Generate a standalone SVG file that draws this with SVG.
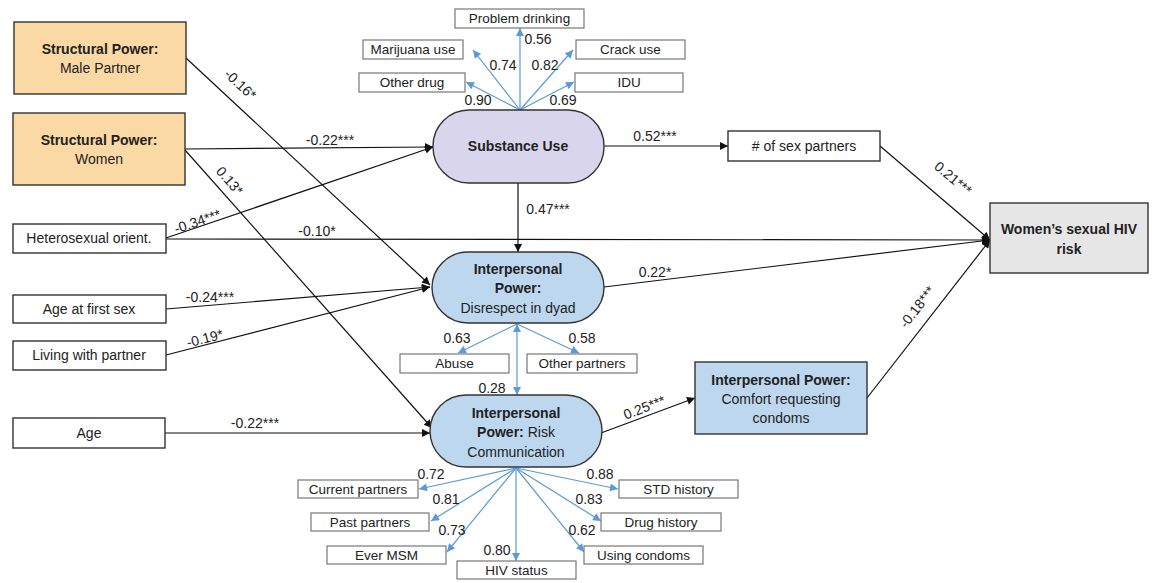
<svg xmlns="http://www.w3.org/2000/svg" width="1160" height="583" viewBox="0 0 1160 583">
<defs>
<marker id="ah" viewBox="0 0 10 10" refX="10" refY="5" markerWidth="10" markerHeight="8" markerUnits="userSpaceOnUse" orient="auto"><path d="M0,0 L10,5 L0,10 z" fill="#111"/></marker>
<marker id="bh" viewBox="0 0 10 10" refX="10" refY="5" markerWidth="9" markerHeight="8" markerUnits="userSpaceOnUse" orient="auto"><path d="M0,0 L10,5 L0,10 z" fill="#5b9bd5"/></marker>
<marker id="bs" viewBox="0 0 10 10" refX="0" refY="5" markerWidth="9" markerHeight="8" markerUnits="userSpaceOnUse" orient="auto"><path d="M10,0 L0,5 L10,10 z" fill="#5b9bd5"/></marker>
</defs>
<style>
text{font-family:"Liberation Sans",Arial,sans-serif;fill:#222;}
.t{font-size:14px;text-anchor:middle;}
.b{font-weight:bold;}
.s{font-size:13.5px;text-anchor:middle;}
.lab{font-size:14px;text-anchor:middle;}
.main{stroke:#333;stroke-width:1.4;}
.ind{fill:#fff;stroke:#777;stroke-width:1.2;}
.c{stroke:#111;stroke-width:1.2;fill:none;marker-end:url(#ah);}
.bl{stroke:#5b9bd5;stroke-width:1.2;fill:none;marker-end:url(#bh);}
</style>
<rect width="1160" height="583" fill="#fff"/>

<g id="connectors">
<line class="c" x1="186" y1="58" x2="430" y2="285"/>
<line class="c" x1="185" y1="149" x2="433" y2="147"/>
<line class="c" x1="185" y1="150" x2="432" y2="428"/>
<line class="c" x1="166" y1="238" x2="433" y2="147"/>
<line class="c" x1="166" y1="239" x2="990" y2="240"/>
<line class="c" x1="166" y1="309" x2="430" y2="287"/>
<line class="c" x1="166" y1="355" x2="430" y2="287"/>
<line class="c" x1="165" y1="433" x2="430" y2="433"/>
<line class="c" x1="518" y1="183" x2="518" y2="252"/>
<line class="c" x1="604" y1="146" x2="728" y2="146"/>
<line class="c" x1="880" y1="146" x2="990" y2="240"/>
<line class="c" x1="604" y1="287" x2="990" y2="240"/>
<line class="c" x1="867" y1="398" x2="990" y2="240"/>
<line class="c" x1="601" y1="433" x2="695" y2="398"/>
<line class="bl" x1="520" y1="110" x2="520" y2="28"/>
<line class="bl" x1="520" y1="110" x2="473" y2="50"/>
<line class="bl" x1="520" y1="110" x2="573" y2="50"/>
<line class="bl" x1="520" y1="110" x2="466" y2="82"/>
<line class="bl" x1="520" y1="110" x2="574" y2="82"/>
<line class="bl" x1="517" y1="324" x2="458" y2="353"/>
<line class="bl" x1="517" y1="324" x2="579" y2="353"/>
<line class="bl" x1="517" y1="324" x2="517" y2="395" marker-start="url(#bs)"/>
<line class="bl" x1="516" y1="468" x2="419" y2="489"/>
<line class="bl" x1="516" y1="468" x2="431" y2="521"/>
<line class="bl" x1="516" y1="468" x2="447" y2="552"/>
<line class="bl" x1="516" y1="468" x2="516" y2="561"/>
<line class="bl" x1="516" y1="468" x2="618" y2="489"/>
<line class="bl" x1="516" y1="468" x2="601" y2="521"/>
<line class="bl" x1="516" y1="468" x2="584" y2="552"/>
</g>

<g id="labels">
<text class="lab" transform="translate(237,88) rotate(43)">-0.16*</text>
<text class="lab" x="330" y="145">-0.22***</text>
<text class="lab" transform="translate(226,184) rotate(49)">0.13*</text>
<text class="lab" transform="translate(199,226) rotate(-19)">-0.34***</text>
<text class="lab" x="317" y="236">-0.10*</text>
<text class="lab" x="210" y="302">-0.24***</text>
<text class="lab" transform="translate(206,343) rotate(-14)">-0.19*</text>
<text class="lab" x="255" y="428">-0.22***</text>
<text class="lab" x="548" y="214">0.47***</text>
<text class="lab" x="655" y="141">0.52***</text>
<text class="lab" transform="translate(950,182) rotate(40)">0.21***</text>
<text class="lab" x="655" y="277">0.22*</text>
<text class="lab" transform="translate(921,310) rotate(-52)">-0.18***</text>
<text class="lab" transform="translate(646,412) rotate(-21)">0.25***</text>
<text class="lab" x="538" y="44">0.56</text>
<text class="lab" x="503" y="70">0.74</text>
<text class="lab" x="545" y="70">0.82</text>
<text class="lab" x="478" y="105">0.90</text>
<text class="lab" x="563" y="105">0.69</text>
<text class="lab" x="457" y="343">0.63</text>
<text class="lab" x="582" y="343">0.58</text>
<text class="lab" x="492" y="393">0.28</text>
<text class="lab" x="431" y="479">0.72</text>
<text class="lab" x="446" y="504">0.81</text>
<text class="lab" x="452" y="535">0.73</text>
<text class="lab" x="497" y="555">0.80</text>
<text class="lab" x="600" y="479">0.88</text>
<text class="lab" x="589" y="504">0.83</text>
<text class="lab" x="582" y="535">0.62</text>
</g>

<g id="male-partner">
<rect class="main" x="14" y="22" width="172" height="72" fill="#fbd9a5"/>
<text class="t b" x="100" y="54">Structural Power:</text>
<text class="t" x="100" y="73">Male Partner</text>
</g>
<g id="women">
<rect class="main" x="13" y="113" width="172" height="72" fill="#fbd9a5"/>
<text class="t b" x="99" y="145">Structural Power:</text>
<text class="t" x="99" y="164">Women</text>
</g>
<g id="hetero">
<rect class="main" x="13" y="224" width="153" height="29" fill="#fff"/>
<text class="t" x="89" y="243">Heterosexual orient.</text>
</g>
<g id="age-first-sex">
<rect class="main" x="13" y="295" width="153" height="28" fill="#fff"/>
<text class="t" x="89" y="314">Age at first sex</text>
</g>
<g id="living">
<rect class="main" x="13" y="341" width="153" height="29" fill="#fff"/>
<text class="t" x="89" y="360">Living with partner</text>
</g>
<g id="age">
<rect class="main" x="13" y="418" width="152" height="30" fill="#fff"/>
<text class="t" x="89" y="438">Age</text>
</g>

<g id="substance-use">
<rect class="main" x="433" y="110" width="171" height="73" rx="36" fill="#d9d5ec"/>
<text class="t b" x="518" y="151">Substance Use</text>
</g>
<g id="disrespect">
<rect class="main" x="432" y="252" width="172" height="71" rx="36" fill="#bdd7ee"/>
<text class="t b" x="518" y="274">Interpersonal</text>
<text class="t b" x="518" y="293">Power:</text>
<text class="t" x="518" y="313">Disrespect in dyad</text>
</g>
<g id="risk-communication">
<rect class="main" x="430" y="395" width="172" height="72" rx="36" fill="#bdd7ee"/>
<text class="t b" x="516" y="418">Interpersonal</text>
<text class="t" x="516" y="437"><tspan font-weight="bold">Power:</tspan>  Risk</text>
<text class="t" x="516" y="457">Communication</text>
</g>
<g id="sex-partners">
<rect class="main" x="728" y="131" width="152" height="30" fill="#fff"/>
<text class="t" x="804" y="151"># of sex partners</text>
</g>
<g id="hiv-risk">
<rect class="main" x="990" y="203" width="158" height="70" fill="#e6e6e6"/>
<text class="t b" x="1069" y="234">Women’s sexual HIV</text>
<text class="t b" x="1069" y="254">risk</text>
</g>
<g id="comfort">
<rect class="main" x="695" y="362" width="172" height="72" fill="#bdd7ee"/>
<text class="t b" x="781" y="385">Interpersonal Power:</text>
<text class="t" x="781" y="404">Comfort requesting</text>
<text class="t" x="781" y="423">condoms</text>
</g>

<g id="ind-problem-drinking"><rect class="ind" x="455" y="9" width="129" height="19"/><text class="s" x="519.5" y="23">Problem drinking</text></g>
<g id="ind-marijuana"><rect class="ind" x="363" y="40" width="100" height="19"/><text class="s" x="413" y="54">Marijuana use</text></g>
<g id="ind-crack"><rect class="ind" x="576" y="40" width="109" height="19"/><text class="s" x="630.5" y="54">Crack use</text></g>
<g id="ind-other-drug"><rect class="ind" x="359" y="73" width="106" height="19"/><text class="s" x="412" y="87">Other drug</text></g>
<g id="ind-idu"><rect class="ind" x="575" y="73" width="108" height="19"/><text class="s" x="629" y="87">IDU</text></g>
<g id="ind-abuse"><rect class="ind" x="400" y="354" width="109" height="19"/><text class="s" x="454.5" y="368">Abuse</text></g>
<g id="ind-other-partners"><rect class="ind" x="527" y="354" width="110" height="19"/><text class="s" x="582" y="368">Other partners</text></g>
<g id="ind-current-partners"><rect class="ind" x="298" y="480" width="120" height="18"/><text class="s" x="358" y="494">Current partners</text></g>
<g id="ind-past-partners"><rect class="ind" x="311" y="513" width="118" height="18"/><text class="s" x="370" y="527">Past partners</text></g>
<g id="ind-ever-msm"><rect class="ind" x="327" y="546" width="119" height="18"/><text class="s" x="386.5" y="560">Ever MSM</text></g>
<g id="ind-hiv-status"><rect class="ind" x="457" y="561" width="119" height="18"/><text class="s" x="516.5" y="575">HIV status</text></g>
<g id="ind-std-history"><rect class="ind" x="619" y="480" width="119" height="18"/><text class="s" x="678.5" y="494">STD history</text></g>
<g id="ind-drug-history"><rect class="ind" x="601" y="513" width="120" height="18"/><text class="s" x="661" y="527">Drug history</text></g>
<g id="ind-using-condoms"><rect class="ind" x="584" y="546" width="119" height="18"/><text class="s" x="643.5" y="560">Using condoms</text></g>
</svg>
